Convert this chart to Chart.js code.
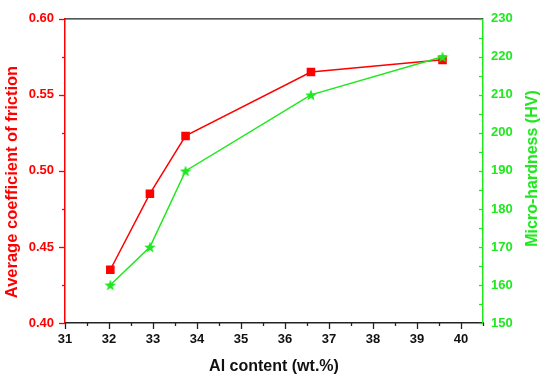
<!DOCTYPE html>
<html>
<head>
<meta charset="utf-8">
<script src="https://cdn.jsdelivr.net/npm/chart.js@4/dist/chart.umd.min.js"></script>
<style>
  html, body { margin: 0; padding: 0; background: #ffffff; }
  #wrap { width: 550px; height: 377px; position: relative; }
</style>
</head>
<body>
<div id="wrap"><canvas id="c" width="550" height="377"></canvas></div>
<script>
// ---- data ----
const alContent = [32.03, 32.93, 33.74, 36.59, 39.58];
const frictionCoef = [0.435, 0.485, 0.523, 0.565, 0.573];
const microHardness = [160, 170, 190, 210, 220];
const xTickValues = [31, 32, 33, 34, 35, 36, 37, 38, 39, 40];
const leftTickValues = [0.40, 0.45, 0.50, 0.55, 0.60];
const rightTickValues = [150, 160, 170, 180, 190, 200, 210, 220, 230];
const leftTitle = 'Average coefficient of friction';
const rightTitle = 'Micro-hardness (HV)';

const RED = '#ff0000';
const GREEN = '#1fe81f';
const FONT = '"Liberation Sans", Arial, sans-serif';

// star point style
function makeStar(size, color) {
  const cv = document.createElement('canvas');
  cv.width = size; cv.height = size;
  const g = cv.getContext('2d');
  const cx = size / 2, cy = size / 2, R = size / 2, r = R * 0.42;
  g.beginPath();
  for (let i = 0; i < 10; i++) {
    const rad = (i % 2 === 0) ? R : r;
    const a = -Math.PI / 2 + i * Math.PI / 5;
    const px = cx + rad * Math.cos(a), py = cy + rad * Math.sin(a) + 0.6;
    if (i === 0) g.moveTo(px, py); else g.lineTo(px, py);
  }
  g.closePath();
  g.fillStyle = color;
  g.fill();
  return cv;
}
const starImg = makeStar(12, GREEN);

const pts = (xs, ys) => xs.map((x, i) => ({ x: x, y: ys[i] }));

function vTitle(ctx, text, color, size, cx, cy) {
  ctx.save();
  ctx.fillStyle = color;
  ctx.font = 'bold ' + size + 'px ' + FONT;
  ctx.textAlign = 'center';
  ctx.textBaseline = 'middle';
  ctx.translate(cx, cy);
  ctx.rotate(-Math.PI / 2);
  ctx.fillText(text, 0, 0);
  ctx.restore();
}

// minor/major tick + frame plugin
const tickPlugin = {
  id: 'ticksFrame',
  afterDraw(chart) {
    const ctx = chart.ctx;
    const a = chart.chartArea;
    const sx = chart.scales.x, sl = chart.scales.yL, sr = chart.scales.yR;
    ctx.save();
    ctx.lineWidth = 1.3;
    // top frame line
    ctx.strokeStyle = '#222';
    ctx.beginPath(); ctx.moveTo(a.left, a.top); ctx.lineTo(a.right, a.top); ctx.stroke();
    // x ticks
    for (let v = 31; v <= 40.5001; v += 0.5) {
      const px = Math.round(sx.getPixelForValue(v)) + 0.5;
      const len = Math.abs(v - Math.round(v)) < 1e-6 ? 6 : 3;
      ctx.beginPath(); ctx.moveTo(px, a.bottom); ctx.lineTo(px, a.bottom + len); ctx.stroke();
    }
    // left ticks
    ctx.strokeStyle = RED;
    for (let i = 0; i <= 8; i++) {
      const v = 0.40 + i * 0.025;
      const py = Math.round(sl.getPixelForValue(v)) + 0.5;
      const len = i % 2 === 0 ? 6 : 3;
      ctx.beginPath(); ctx.moveTo(a.left, py); ctx.lineTo(a.left - len, py); ctx.stroke();
    }
    // right ticks (inward)
    ctx.strokeStyle = GREEN;
    for (let i = 0; i <= 16; i++) {
      const v = 150 + i * 5;
      const py = Math.round(sr.getPixelForValue(v)) + 0.5;
      ctx.beginPath(); ctx.moveTo(a.right, py); ctx.lineTo(a.right - 4, py); ctx.stroke();
    }
    ctx.restore();
    // axis titles, reading bottom-to-top
    vTitle(ctx, leftTitle, RED, 16.5, 12.5, 182);
    vTitle(ctx, rightTitle, GREEN, 16, 533, 168.5);
  }
};

new Chart(document.getElementById('c'), {
  type: 'scatter',
  data: {
    datasets: [
      {
        label: 'Micro-hardness',
        data: pts(alContent, microHardness),
        yAxisID: 'yR',
        showLine: true,
        borderColor: GREEN,
        backgroundColor: GREEN,
        borderWidth: 1.5,
        pointStyle: starImg,
        pointRadius: 6,
        tension: 0
      },
      {
        label: 'Average coefficient of friction',
        data: pts(alContent, frictionCoef),
        yAxisID: 'yL',
        showLine: true,
        borderColor: RED,
        backgroundColor: RED,
        borderWidth: 1.5,
        pointStyle: 'rect',
        pointRadius: 5,
        tension: 0
      }
    ]
  },
  options: {
    responsive: false,
    animation: false,
    devicePixelRatio: 1,
    layout: { padding: { top: 16, left: 0, right: 0, bottom: 0 } },
    plugins: { legend: { display: false }, tooltip: { enabled: false } },
    scales: {
      x: {
        type: 'linear', position: 'bottom', min: 31, max: 40.5,
        afterBuildTicks: s => { s.ticks = xTickValues.map(v => ({ value: v })); },
        afterFit: s => { s.height = 54; },
        grid: { display: false, drawTicks: false },
        border: { display: true, color: '#222', width: 1.5 },
        ticks: { color: '#111', font: { family: FONT, size: 13, weight: 'bold' }, padding: 9, maxRotation: 0, autoSkip: false },
        title: { display: true, text: 'Al content (wt.%)', color: '#111', font: { family: FONT, size: 16, weight: 'bold' }, padding: { top: 0, bottom: 1 } }
      },
      yL: {
        type: 'linear', position: 'left', min: 0.40, max: 0.60,
        afterBuildTicks: s => { s.ticks = leftTickValues.map(v => ({ value: v })); },
        afterFit: s => { s.width = 65; },
        grid: { display: false, drawTicks: false },
        border: { display: true, color: RED, width: 1.5 },
        ticks: { color: RED, font: { family: FONT, size: 13, weight: 'bold' }, padding: 11, callback: v => Number(v).toFixed(2) },
        title: { display: false }
      },
      yR: {
        type: 'linear', position: 'right', min: 150, max: 230,
        afterBuildTicks: s => { s.ticks = rightTickValues.map(v => ({ value: v })); },
        afterFit: s => { s.width = 67; },
        grid: { display: false, drawTicks: false },
        border: { display: true, color: GREEN, width: 1.5 },
        ticks: { color: GREEN, font: { family: FONT, size: 13, weight: 'bold' }, padding: 8 },
        title: { display: false }
      }
    }
  },
  plugins: [tickPlugin]
});
</script>
</body>
</html>
